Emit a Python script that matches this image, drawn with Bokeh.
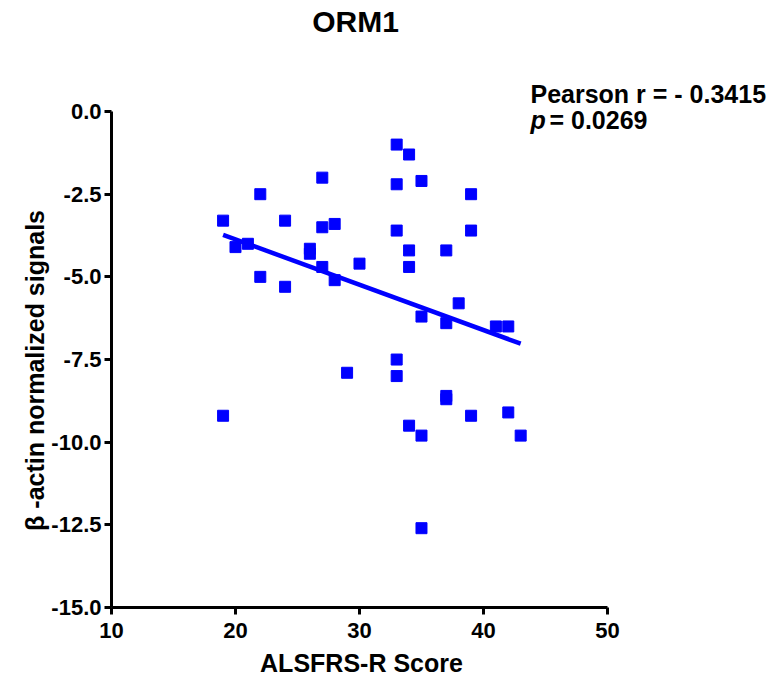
import math
from bokeh.plotting import figure
from bokeh.embed import file_html
from bokeh.resources import INLINE
from bokeh.models import FixedTicker, NumeralTickFormatter, Label, Range1d

# Data
alsfrs_score = [19, 19, 20, 21, 22, 22, 24, 24, 26, 26, 27, 27, 27, 28, 28, 29, 30,
                33, 33, 33, 33, 33, 34, 34, 34, 34, 35, 35, 35, 35,
                37, 37, 37, 37, 38, 39, 39, 39, 41, 42, 42, 43]
actin_signal = [-3.3, -9.2, -4.1, -4.0, -2.5, -5.0, -3.3, -5.3, -4.15, -4.3, -2.0, -3.5, -4.7,
                -3.4, -5.1, -7.9, -4.6,
                -1.0, -2.2, -3.6, -7.5, -8.0, -1.3, -4.2, -4.7, -9.5, -2.1, -6.2, -9.8, -12.6,
                -4.2, -6.4, -8.6, -8.7, -5.8, -2.5, -3.6, -9.2, -6.5, -6.5, -9.1, -9.8]
fit_x = [19, 43]
fit_y = [-3.73, -7.02]
x_ticks = [10, 20, 30, 40, 50]
y_ticks = [-15.0, -12.5, -10.0, -7.5, -5.0, -2.5, 0.0]
x_bounds = (10, 50)
y_bounds = (-15, 0)

FONT = "Liberation Sans"

# The plotting area covers the whole canvas; axes are drawn at fixed data positions
p = figure(width=773, height=690, output_backend="svg", toolbar_location=None,
           x_range=Range1d(1.048, 63.39), y_range=Range1d(-17.508, 3.357),
           min_border_left=0, min_border_right=0, min_border_top=0, min_border_bottom=0)
p.outline_line_color = None
p.grid.visible = False
p.background_fill_color = "white"
p.border_fill_color = "white"

for ax in (p.xaxis[0], p.yaxis[0]):
    ax.axis_line_width = 3
    ax.axis_line_color = "black"
    ax.major_tick_line_width = 3
    ax.major_tick_line_color = "black"
    ax.major_tick_out = 7
    ax.major_tick_in = 0
    ax.minor_tick_line_color = None
    ax.major_label_text_font = FONT
    ax.major_label_text_font_size = "22px"
    ax.major_label_text_font_style = "bold"
    ax.major_label_text_color = "black"

p.xaxis.fixed_location = y_bounds[0]
p.yaxis.fixed_location = x_bounds[0]
p.xaxis.bounds = x_bounds
p.yaxis.bounds = y_bounds
p.xaxis.ticker = FixedTicker(ticks=x_ticks)
p.yaxis.ticker = FixedTicker(ticks=y_ticks)
p.yaxis.formatter = NumeralTickFormatter(format="0.0")
p.xaxis.major_label_standoff = 8
p.yaxis.major_label_standoff = 3

p.scatter(alsfrs_score, actin_signal, marker="square", size=11,
          fill_color="#0000FF", line_color="#0000FF")
p.line(fit_x, fit_y, line_color="#0000FF", line_width=4.5)

def text(x, y, s, size, style="bold", align="left", angle=0.0):
    p.add_layout(Label(x=x, y=y, text=s, text_font=FONT, text_font_size=size,
                       text_font_style=style, text_color="black", angle=angle,
                       text_baseline="middle", text_align=align))

text(29.68, 2.72, "ORM1", "30px", align="center")
text(30.16, -16.69, "ALSFRS-R Score", "25px", align="center")
text(3.87, -7.83, "\u03b2 -actin normalized signals", "25px", align="center", angle=math.pi / 2)
text(43.79, 0.544, "Pearson r = - 0.3415", "25px")
text(43.79, -0.27, "p", "25px", style="bold italic")
text(45.32, -0.27, "= 0.0269", "25px")

open("out.html", "w").write(file_html(p, INLINE))
